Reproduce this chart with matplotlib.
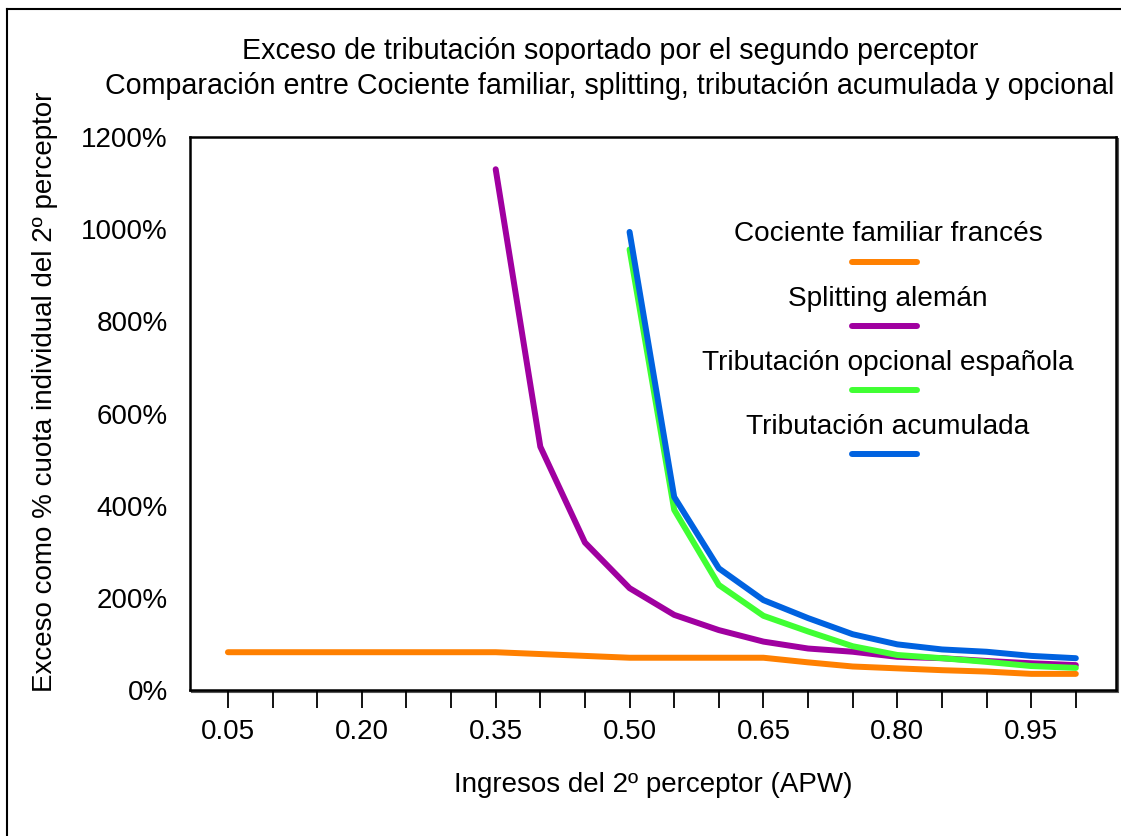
import matplotlib
matplotlib.use("Agg")
import matplotlib.pyplot as plt
from matplotlib.lines import Line2D
from matplotlib.patches import Rectangle
import numpy as np

plt.rcParams['font.family'] = ['Liberation Sans', 'DejaVu Sans']

categories = ['0.05', '0.10', '0.15', '0.20', '0.25', '0.30', '0.35', '0.40', '0.45', '0.50',
              '0.55', '0.60', '0.65', '0.70', '0.75', '0.80', '0.85', '0.90', '0.95', '1.00']
cociente = [82, 82, 82, 82, 82, 82, 82, 78, 74, 70, 70, 70, 70, 60, 51, 47, 43, 40, 35, 35]
splitting = [None, None, None, None, None, None, 1130, 528, 320, 221, 163, 130, 105, 90, 83, 72, 69, 63, 58, 54]
opcional = [None] * 9 + [956, 391, 228, 161, 127, 95, 76, 69, 61, 52, 48]
acumulada = [None] * 9 + [994, 419, 264, 195, 156, 121, 99, 88, 83, 74, 69]

series_names = ['Cociente familiar francés', 'Splitting alemán',
                'Tributación opcional española', 'Tributación acumulada']
series_values = [cociente, splitting, opcional, acumulada]
colors = ['#FF8000', '#A000A0', '#40FF33', '#0062E0']

W, H = 1121, 836
fig = plt.figure(figsize=(W / 100, H / 100), dpi=100)

# plot-area shadow
fig.add_artist(Rectangle((192 / W, 1 - 692 / H), (1116 - 190) / W, (690 - 137) / H,
                         transform=fig.transFigure, facecolor='none', edgecolor='#555555',
                         lw=1.5, zorder=0))

ax = fig.add_axes([190 / W, 1 - 690 / H, (1116 - 190) / W, (690 - 137) / H])
ax.set_zorder(1)

x = np.arange(len(categories))
for vals, c in zip(series_values, colors):
    y = np.array([np.nan if v is None else v for v in vals], dtype=float)
    ax.plot(x, y, color=c, lw=4.3, solid_capstyle='round', solid_joinstyle='round', zorder=3)

ax.set_xlim(-0.85, 19.9)
ax.set_ylim(0, 1200)
ax.set_xticks(x)
ax.set_xticklabels([lab if i % 3 == 0 else '' for i, lab in enumerate(categories)])
ax.set_yticks(np.arange(0, 1201, 200))
ax.set_yticklabels([f'{v}%' for v in range(0, 1201, 200)])
ax.tick_params(axis='x', direction='out', length=13, width=1.3, pad=8, labelsize=20, color='black')
ax.tick_params(axis='y', length=0, pad=16, labelsize=20)
for s in ax.spines.values():
    s.set_linewidth(1.8)
    s.set_color('black')

ax.set_xlabel('Ingresos del 2º perceptor (APW)', fontsize=20, labelpad=19)

fig.text(45 / W, 1 - 392 / H, 'Exceso como % cuota individual del 2º perceptor',
         rotation=90, ha='center', va='center', fontsize=20)

fig.text(610 / W, 1 - 51 / H, 'Exceso de tributación soportado por el segundo perceptor',
         ha='center', va='center', fontsize=20.6)
fig.text(610 / W, 1 - 86 / H, 'Comparación entre Cociente familiar, splitting, tributación acumulada y opcional',
         ha='center', va='center', fontsize=20.6)

# legend: text above line sample
text_y = [234, 299, 363, 427]
line_y = [262, 326, 390, 454]
for name, c, ty, ly in zip(series_names, colors, text_y, line_y):
    fig.text(888 / W, 1 - ty / H, name, ha='center', va='center', fontsize=20.2)
    fig.add_artist(Line2D([852 / W, 917 / W], [1 - ly / H, 1 - ly / H], color=c, lw=4.3,
                          solid_capstyle='round', transform=fig.transFigure))

# outer border of the chart area
fig.add_artist(Line2D([7 / W, 7 / W], [0, 1 - 9 / H], color='black', lw=1.5, transform=fig.transFigure))
fig.add_artist(Line2D([7 / W, 1], [1 - 9 / H, 1 - 9 / H], color='black', lw=1.5, transform=fig.transFigure))

fig.savefig('out.png', dpi=100)
